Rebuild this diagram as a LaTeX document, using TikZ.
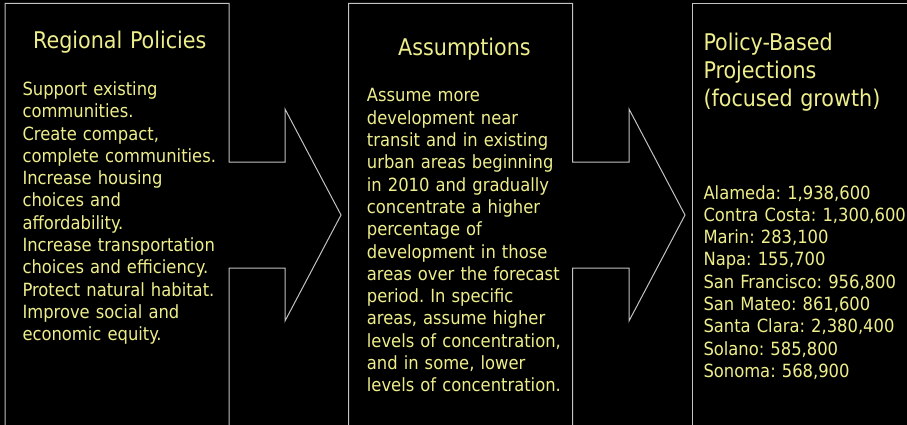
\documentclass[tikz,border=0pt]{standalone}
\usepackage{fontspec}
\setmainfont{DejaVu Sans Condensed}
\frenchspacing
\definecolor{paleyellow}{RGB}{238,238,140}
\definecolor{linegray}{RGB}{195,195,195}
\tikzset{
  outline/.style={draw=linegray, line width=1pt, line join=miter},
  heading/.style={anchor=base west, inner sep=0, text=paleyellow, align=left, text width=220pt,
    font=\fontsize{23}{28.2}\selectfont},
  bodytext/.style={anchor=base west, inner sep=0, text=paleyellow, align=left, text width=220pt,
    font=\fontsize{18.2}{22.3}\selectfont}
}
\begin{document}
\begin{tikzpicture}[x=1pt, y=-1pt]
\useasboundingbox[fill=black] (0,0) rectangle (907,425);
% block arrows
\draw[outline] (5,430) -- (5,3.5) -- (229,3.5) -- (229,162) -- (285,162) -- (285,109) -- (341,215)
  -- (285,321) -- (285,268) -- (229,268) -- (229,430);
\draw[outline] (348.5,430) -- (348.5,3.5) -- (572.7,3.5) -- (572.7,162) -- (629,162) -- (629,109) -- (685,215)
  -- (629,321) -- (629,268) -- (572.7,268) -- (572.7,430);
\draw[outline] (692.7,430) -- (692.7,3.5) -- (910,3.5);
% headings
\node[heading] (policies) at (33,49) {Regional Policies};
\node[heading] (assume) at (398,56) {Assumptions};
\node[heading] (proj) at (703.3,50.5) {Policy-Based\\Projections\\(focused growth)};
% texts
\node[bodytext] (policylist) at (22.3,95.5) {Support existing\\communities.\\Create compact,\\complete communities.\\Increase housing\\choices and\\affordability.\\Increase transportation\\choices and efficiency.\\Protect natural habitat.\\Improve social and\\economic equity.};
\node[bodytext] (assumetext) at (366.7,102) {Assume more\\development near\\transit and in existing\\urban areas beginning\\in 2010 and gradually\\concentrate a higher\\percentage of\\development in those\\areas over the forecast\\period. In specific\\areas, assume higher\\levels of concentration,\\and in some, lower\\levels of concentration.};
\node[bodytext] (counties) at (703.3,199) {Alameda: 1,938,600\\Contra Costa: 1,300,600\\Marin: 283,100\\Napa: 155,700\\San Francisco: 956,800\\San Mateo: 861,600\\Santa Clara: 2,380,400\\Solano: 585,800\\Sonoma: 568,900};
\end{tikzpicture}
\end{document}
